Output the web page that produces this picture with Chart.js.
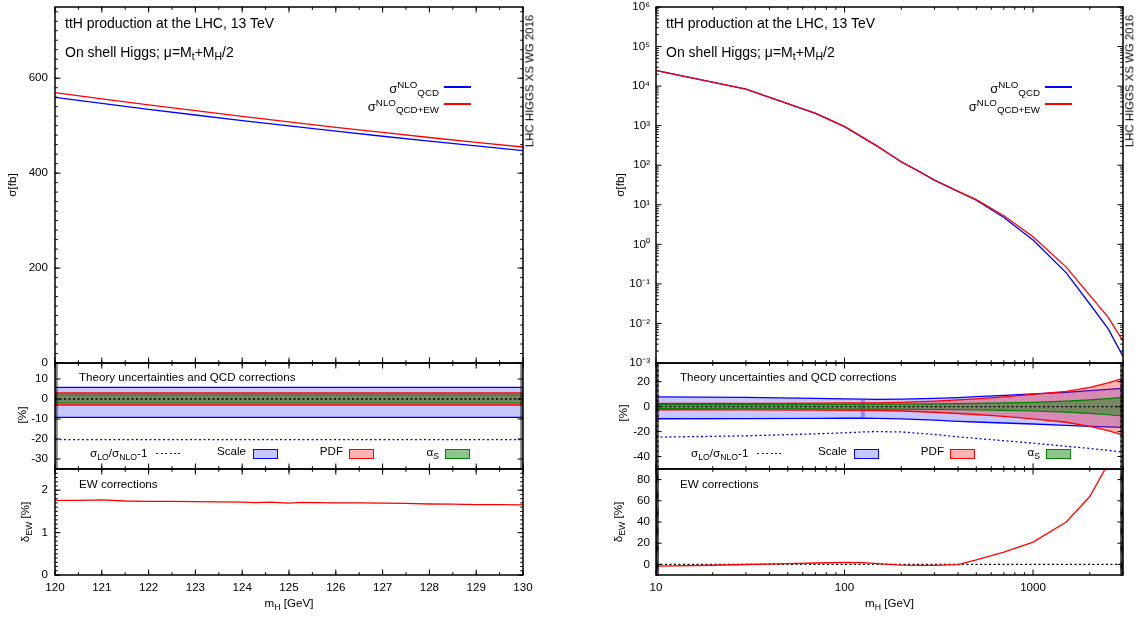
<!DOCTYPE html>
<html><head><meta charset="utf-8">
<script src="https://cdn.jsdelivr.net/npm/chart.js@4.4.0/dist/chart.umd.min.js"></script>
<style>
html,body{margin:0;padding:0;background:#fff;}
#root{position:relative;width:1136px;height:617px;overflow:hidden;font-family:"Liberation Sans",Arial,Helvetica,sans-serif;color:#000;}
#root canvas{position:absolute;}
.t{position:absolute;white-space:nowrap;line-height:1;}
.sp{position:relative;top:-0.5em;font-size:0.75em;}
.sb{position:relative;top:0.3em;font-size:0.75em;}
.box{position:absolute;box-sizing:border-box;}
</style></head><body><div id="root"></div>
<script>
// ================= DATA =================
// Left: m_H 120..130 GeV
const leftMass = [120,121,122,123,124,125,126,127,128,129,130];
const leftSigmaQCD   = [559.7,546.9,534.5,522.5,510.7,499.4,488.3,477.7,467.3,457.3,447.5];
const leftSigmaQCDEW = [569.5,556.5,543.8,531.5,519.5,507.9,496.6,485.7,475.1,464.9,455.0];

const leftBandMass  = [120,125,130];
const leftScaleUp   = [5.8,5.8,5.8];
const leftScaleDown = [-9.2,-9.2,-9.2];
const leftPdfUp     = [3.0,3.0,3.0];
const leftPdfDown   = [-3.0,-3.0,-3.0];
const leftAsUp      = [2.0,2.0,2.0];
const leftAsDown    = [-2.0,-2.0,-2.0];
const leftLoRatio   = [-20.3,-20.3,-20.3];
const leftZero      = [0,0,0];

const leftEwMass  = [120,120.5,121,121.5,122,122.5,123,123.5,124,124.3,124.6,125,125.3,125.6,126,126.5,127,127.5,128,128.5,129,129.5,130];
const leftEwDelta = [1.76,1.76,1.77,1.745,1.735,1.735,1.73,1.725,1.72,1.705,1.72,1.695,1.715,1.705,1.70,1.70,1.695,1.69,1.675,1.67,1.66,1.66,1.655];

// Right: m_H 10..3000 GeV
const rightMass = [10,30,70,100,125,150,200,250,300,400,500,700,1000,1500,2000,2500,3000];
const rightSigmaQCD   = [25000,8400,2050,940,499,298,122,69,42,21.8,13.0,4.75,1.29,0.19,0.031,0.0074,0.00147];
const rightSigmaQCDEW = [24600,8400,2070,958,507,300,121,68.5,41.7,21.8,13.5,5.3,1.56,0.266,0.051,0.0145,0.0036];

const rightBandMass  = [10,30,70,100,125,150,200,300,400,500,700,1000,1500,2000,2500,3000];
const rightScaleUp   = [7.8,7.4,6.6,6.3,6.0,5.9,6.0,6.6,7.3,8.0,9.0,10.2,11.5,12.8,13.8,14.7];
const rightScaleDown = [-9.7,-9.6,-9.4,-9.3,-9.3,-9.4,-9.8,-10.8,-11.8,-12.3,-13.1,-13.9,-15.0,-15.8,-16.3,-16.7];
const rightPdfUp     = [2.6,2.7,2.9,3.0,3.0,3.1,3.5,4.5,5.5,6.3,7.8,9.8,12.3,15.5,19.0,22.7];
const rightPdfDown   = [-2.5,-2.6,-2.8,-3.0,-3.0,-3.1,-3.5,-4.5,-5.5,-6.3,-7.8,-9.8,-12.5,-15.8,-19.3,-22.8];
const rightAsUp      = [1.6,1.7,1.8,1.9,2.0,2.0,2.1,2.3,2.5,2.7,3.0,3.5,4.4,5.4,6.5,7.5];
const rightAsDown    = [-1.6,-1.7,-1.8,-1.9,-2.0,-2.0,-2.1,-2.3,-2.5,-2.7,-3.0,-3.5,-4.4,-5.4,-6.5,-7.5];
const rightLoRatio   = [-24.5,-23.4,-21.8,-21,-20.3,-20,-20.3,-22.3,-24.2,-25.5,-27.3,-29.3,-31.8,-33.5,-35,-36.5];
const rightZeroMass  = [10,3000];
const rightZero      = [0,0];
const scaleSpikeMass = [125,125];
const scaleSpikeVal  = [-9.3,6.0];

const rightEwMass  = [10,20,30,50,70,100,125,150,200,250,300,400,500,700,1000,1500,2000,2500,3000];
const rightEwDelta = [-1.6,-0.8,-0.1,0.8,1.3,1.9,1.7,0.7,-0.6,-0.9,-0.9,-0.2,4.2,11.6,21,40,64,95,145];

// Tick labels
const leftMassTicks  = [120,121,122,123,124,125,126,127,128,129,130];
const rightMassTicks = [10,100,1000];
const leftSigmaTicks = [0,200,400,600];
const rightSigmaTicks = [1e-3,1e-2,1e-1,1e0,1e1,1e2,1e3,1e4,1e5,1e6];
const rightSigmaTickLabels = ['10\u207B\u00B3','10\u207B\u00B2','10\u207B\u00B9','10\u2070','10\u00B9','10\u00B2','10\u00B3','10\u2074','10\u2075','10\u2076'];
const leftPctTicks  = [-30,-20,-10,0,10];
const rightPctTicks = [-40,-20,0,20];
const leftEwTicks   = [0,1,2];
const rightEwTicks  = [0,20,40,60,80];

// ================= STYLE =================
const BLUE='rgb(0,0,255)', RED='rgb(255,0,0)', GREEN='rgb(0,128,0)';
const BLUE_F='rgba(0,0,255,0.22)', RED_F='rgba(255,0,0,0.3)', GREEN_F='rgba(0,128,0,0.45)';
Chart.defaults.font.family = '"Liberation Sans", Arial, sans-serif';
Chart.defaults.font.size = 11.6;
Chart.defaults.color = '#000';

const root = document.getElementById('root');
const pts = (xs, ys) => xs.map((x,i)=>({x:x, y:ys[i]}));
function linSeq(a,b,s){const r=[];for(let v=a;v<=b+1e-9;v+=s)r.push(+v.toFixed(6));return r;}
function logMinor(a,b){const r=[];for(let e=Math.floor(Math.log10(a));e<=Math.ceil(Math.log10(b));e++)for(let k=2;k<=9;k++){const v=k*Math.pow(10,e);if(v>=a*0.999&&v<=b*1.001)r.push(v);}return r;}

const framePlugin = {
  id:'frame',
  afterDraw(chart, args, o){
    const ctx=chart.ctx, a=chart.chartArea, xs=chart.scales.x, ys=chart.scales.y;
    ctx.save();
    ctx.strokeStyle='#000'; ctx.lineWidth=1;
    const dx=(vals,len)=>{vals.forEach(v=>{const p=xs.getPixelForValue(v); if(p<a.left-0.6||p>a.right+0.6)return;
      ctx.beginPath();ctx.moveTo(p,a.bottom);ctx.lineTo(p,a.bottom-len);ctx.moveTo(p,a.top);ctx.lineTo(p,a.top+len);ctx.stroke();});};
    const dy=(vals,len)=>{vals.forEach(v=>{const p=ys.getPixelForValue(v); if(p<a.top-0.6||p>a.bottom+0.6)return;
      ctx.beginPath();ctx.moveTo(a.left,p);ctx.lineTo(a.left+len,p);ctx.moveTo(a.right,p);ctx.lineTo(a.right-len,p);ctx.stroke();});};
    dx(o.xMinor||[],2.8); dx(o.xMajor||[],5.5);
    dy(o.yMinor||[],2.8); dy(o.yMajor||[],5.5);
    ctx.lineWidth=1.5;
    ctx.strokeRect(a.left,a.top,a.right-a.left,a.bottom-a.top);
    ctx.restore();
  }
};

function line(data, color, extra){
  return Object.assign({data:data, borderColor:color, backgroundColor:color, borderWidth:1.3, pointRadius:0, tension:0, fill:false}, extra||{});
}

function panel(p){
  const c=document.createElement('canvas');
  c.width=p.cw; c.height=p.ch;
  c.style.left=p.cx+'px'; c.style.top=p.cy+'px';
  c.style.width=p.cw+'px'; c.style.height=p.ch+'px';
  root.appendChild(c);
  const yW=p.L-p.cx, xH=p.cy+p.ch-p.B;
  new Chart(c,{
    type:'line',
    data:{datasets:p.datasets},
    plugins:[framePlugin],
    options:{
      responsive:false, animation:false, devicePixelRatio:1, events:[],
      layout:{padding:{left:0, top:p.T-p.cy, right:p.cx+p.cw-p.R, bottom:p.showX?0:xH}},
      plugins:{legend:{display:false}, tooltip:{enabled:false}, frame:p.frame},
      scales:{
        x:{type:p.xType, min:p.xMin, max:p.xMax, display:p.showX, position:'bottom',
           grid:{display:false, drawTicks:false}, border:{display:false},
           ticks:{autoSkip:false, maxRotation:0, padding:6, callback:(v)=>String(v)},
           afterBuildTicks:(s)=>{s.ticks=p.xTicks.map(v=>({value:v}));},
           afterFit:(s)=>{s.height=p.showX?xH:0;}},
        y:{type:p.yType, min:p.yMin, max:p.yMax, position:'left',
           grid:{display:false, drawTicks:false}, border:{display:false},
           ticks:{autoSkip:false, padding:p.yPad||7, callback:p.yLabel||((v)=>String(v))},
           afterBuildTicks:(s)=>{s.ticks=p.yTicks.map(v=>({value:v}));},
           afterFit:(s)=>{s.width=yW;}}
      }
    }
  });
}

// ================= GEOMETRY =================
const T=7, Y1=363, Y2=469, B=575;
const LL=55, LR=523, RL=656, RR=1123;

// ---- Left top
panel({cx:0,cy:-20,cw:600,ch:400,L:LL,R:LR,T:T,B:Y1,showX:false,
  xType:'linear',xMin:120,xMax:130,xTicks:leftMassTicks,
  yType:'linear',yMin:0,yMax:750,yTicks:leftSigmaTicks,
  frame:{xMajor:leftMassTicks,xMinor:linSeq(120,130,0.5),yMajor:leftSigmaTicks,yMinor:linSeq(0,740,20)},
  datasets:[
    line(pts(leftMass,leftSigmaQCD),BLUE,{order:1}),
    line(pts(leftMass,leftSigmaQCDEW),RED,{order:0})
  ]});
// ---- Left middle
panel({cx:0,cy:330,cw:600,ch:170,L:LL,R:LR,T:Y1,B:Y2,showX:false,
  xType:'linear',xMin:120,xMax:130,xTicks:leftMassTicks,
  yType:'linear',yMin:-35,yMax:18,yTicks:leftPctTicks,
  frame:{xMajor:leftMassTicks,xMinor:linSeq(120,130,0.5),yMajor:leftPctTicks,yMinor:linSeq(-35,18,1)},
  datasets:[
    line(pts(leftBandMass,leftScaleUp),BLUE,{order:10,fill:'+1',backgroundColor:BLUE_F}),
    line(pts(leftBandMass,leftScaleDown),BLUE,{order:10}),
    line(pts(leftBandMass,leftPdfUp),RED,{order:8,fill:'+1',backgroundColor:RED_F}),
    line(pts(leftBandMass,leftPdfDown),RED,{order:8}),
    line(pts(leftBandMass,leftAsUp),GREEN,{order:6,fill:'+1',backgroundColor:GREEN_F,borderWidth:1}),
    line(pts(leftBandMass,leftAsDown),GREEN,{order:6,borderWidth:1}),
    line(pts(leftBandMass,leftZero),'#000',{order:1,borderDash:[2,2.5],borderWidth:1.3}),
    line(pts(leftBandMass,leftLoRatio),BLUE,{order:1,borderDash:[2,2.5],borderWidth:1.3})
  ]});
// ---- Left bottom
panel({cx:0,cy:440,cw:600,ch:177,L:LL,R:LR,T:Y2,B:B,showX:true,
  xType:'linear',xMin:120,xMax:130,xTicks:leftMassTicks,
  yType:'linear',yMin:0,yMax:2.5,yTicks:leftEwTicks,
  frame:{xMajor:leftMassTicks,xMinor:linSeq(120,130,0.5),yMajor:leftEwTicks,yMinor:linSeq(0,2.5,0.1)},
  datasets:[ line(pts(leftEwMass,leftEwDelta),RED,{order:0}) ]});

const sigLabel=(v)=>{const i=rightSigmaTicks.findIndex(t=>Math.abs(Math.log10(t)-Math.log10(v))<1e-6);return i>=0?rightSigmaTickLabels[i]:'';};
// ---- Right top
panel({cx:560,cy:-20,cw:576,ch:400,L:RL,R:RR,T:T,B:Y1,showX:false,
  xType:'logarithmic',xMin:10,xMax:3000,xTicks:rightMassTicks,
  yType:'logarithmic',yMin:1e-3,yMax:1e6,yTicks:rightSigmaTicks,yLabel:sigLabel,yPad:6,
  frame:{xMajor:rightMassTicks,xMinor:logMinor(10,3000),yMajor:rightSigmaTicks,yMinor:logMinor(1e-3,1e6)},
  datasets:[
    line(pts(rightMass,rightSigmaQCD),BLUE,{order:1}),
    line(pts(rightMass,rightSigmaQCDEW),RED,{order:0})
  ]});
// ---- Right middle
panel({cx:560,cy:330,cw:576,ch:170,L:RL,R:RR,T:Y1,B:Y2,showX:false,
  xType:'logarithmic',xMin:10,xMax:3000,xTicks:rightMassTicks,
  yType:'linear',yMin:-50,yMax:35,yTicks:rightPctTicks,yPad:6,
  frame:{xMajor:rightMassTicks,xMinor:logMinor(10,3000),yMajor:rightPctTicks,yMinor:linSeq(-50,35,1)},
  datasets:[
    line(pts(rightBandMass,rightScaleUp),BLUE,{order:10,fill:'+1',backgroundColor:BLUE_F}),
    line(pts(rightBandMass,rightScaleDown),BLUE,{order:10}),
    line(pts(rightBandMass,rightPdfUp),RED,{order:8,fill:'+1',backgroundColor:RED_F}),
    line(pts(rightBandMass,rightPdfDown),RED,{order:8}),
    line(pts(rightBandMass,rightAsUp),GREEN,{order:6,fill:'+1',backgroundColor:GREEN_F,borderWidth:1.2}),
    line(pts(rightBandMass,rightAsDown),GREEN,{order:6,borderWidth:1.2}),
    line(pts(scaleSpikeMass,scaleSpikeVal),'rgba(60,60,255,0.45)',{order:9,borderWidth:4}),
    line(pts(rightZeroMass,rightZero),'#000',{order:1,borderDash:[2,2.5],borderWidth:1.3}),
    line(pts(rightBandMass,rightLoRatio),BLUE,{order:1,borderDash:[2,2.5],borderWidth:1.3})
  ]});
// ---- Right bottom
panel({cx:560,cy:440,cw:576,ch:177,L:RL,R:RR,T:Y2,B:B,showX:true,
  xType:'logarithmic',xMin:10,xMax:3000,xTicks:rightMassTicks,
  yType:'linear',yMin:-10,yMax:90,yTicks:rightEwTicks,yPad:6,
  frame:{xMajor:rightMassTicks,xMinor:logMinor(10,3000),yMajor:rightEwTicks,yMinor:linSeq(-10,90,1)},
  datasets:[
    line(pts(rightZeroMass,rightZero),'#000',{order:1,borderDash:[2,2.5],borderWidth:1.3}),
    line(pts(rightEwMass,rightEwDelta),RED,{order:0})
  ]});

// ================= TEXT & LEGENDS =================
function txt(html,x,y,o){o=o||{};const d=document.createElement('div');d.className='t';d.innerHTML=html;
  d.style.left=x+'px';d.style.top=y+'px';d.style.fontSize=(o.size||11.6)+'px';
  const tx=o.align==='right'?'-100%':(o.align==='center'||o.rot)?'-50%':'0';
  d.style.transform='translate('+tx+',-50%)'+(o.rot?' rotate(-90deg)':'');
  root.appendChild(d);}
function box(x,y,w,h,css){const d=document.createElement('div');d.className='box';
  d.style.left=x+'px';d.style.top=y+'px';d.style.width=w+'px';d.style.height=h+'px';
  Object.assign(d.style,css);root.appendChild(d);}

[[LL,LR],[RL,RR]].forEach(([L,R],k)=>{
  txt('ttH production at the LHC, 13 TeV', L+10, 22.7, {size:14});
  txt('On shell Higgs; \u03BC=M<span class="sb">t</span>+M<span class="sb">H</span>/2', L+10, 51.7, {size:14});
  txt('LHC HIGGS XS WG 2016', R+6.5, 81, {size:11.4, rot:true});
  // top legend
  txt('\u03C3<span class="sp">NLO</span><span class="sb">QCD</span>', L+384, 88, {size:13, align:'right'});
  txt('\u03C3<span class="sp">NLO</span><span class="sb">QCD+EW</span>', L+384, 105.5, {size:13, align:'right'});
  box(L+389, 86, 27, 1.5, {background:BLUE});
  box(L+389, 103.3, 27, 1.5, {background:RED});
  // middle panel texts
  txt('Theory uncertainties and QCD corrections', L+24, 377, {size:11.6});
  txt('\u03C3<span class="sb">LO</span>/\u03C3<span class="sb">NLO</span>-1', L+35, 453, {size:11.6});
  box(L+101, 452.6, 24, 1.4, {background:'repeating-linear-gradient(90deg,'+BLUE+' 0 2px,transparent 2px 4.5px)'});
  txt('Scale', L+191, 451, {size:11.6, align:'right'});
  box(L+198, 449, 25, 9.5, {background:'rgba(0,0,255,0.22)', border:'1.5px solid '+BLUE});
  txt('PDF', L+288, 451, {size:11.6, align:'right'});
  box(L+294, 449, 25, 9.5, {background:'rgba(255,0,0,0.3)', border:'1.5px solid '+RED});
  txt('\u03B1<span class="sb">S</span>', L+384, 452, {size:11.6, align:'right'});
  box(L+390, 449, 25, 9.5, {background:'rgba(0,128,0,0.45)', border:'1.5px solid '+GREEN});
  txt('EW corrections', L+24, 483.7, {size:11.6});
  // axis titles
  txt('m<span class="sb">H</span> [GeV]', (L+R)/2, 603, {size:11.6, align:'center'});
});
txt('\u03C3[fb]', 12, 185, {size:11.6, rot:true});
txt('[%]', 21.7, 415, {size:11.6, rot:true});
txt('\u03B4<span class="sb">EW</span> [%]', 25, 522, {size:11.6, rot:true});
txt('\u03C3[fb]', 620, 185, {size:11.6, rot:true});
txt('[%]', 622.5, 413, {size:11.6, rot:true});
txt('\u03B4<span class="sb">EW</span> [%]', 618, 522, {size:11.6, rot:true});
</script>
</body></html>
